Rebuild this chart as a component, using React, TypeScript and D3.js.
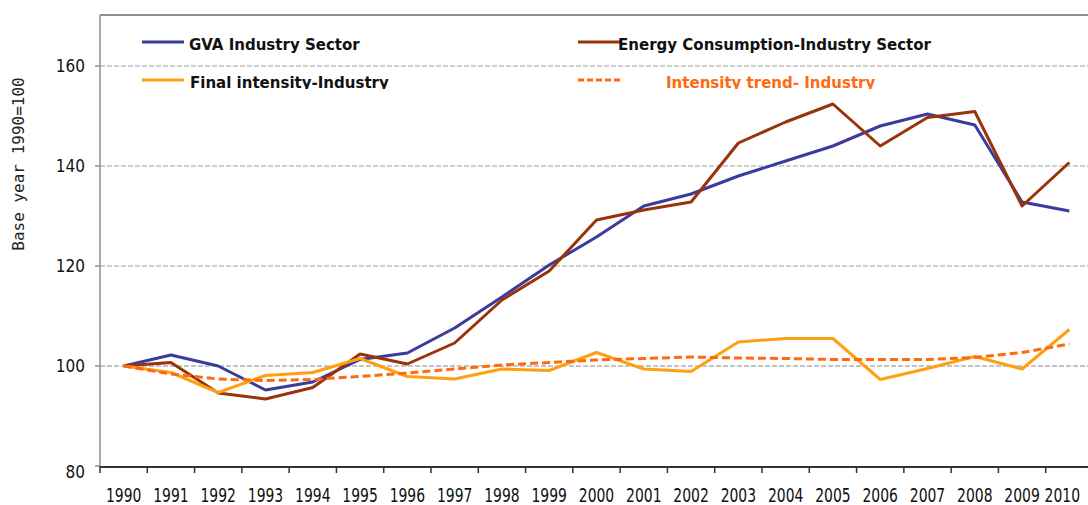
import { useEffect, useRef } from "react";
import * as d3 from "d3";

const years = ["1990", "1991", "1992", "1993", "1994", "1995", "1996", "1997", "1998", "1999", "2000",
  "2001", "2002", "2003", "2004", "2005", "2006", "2007", "2008", "2009", "2010"];

const gva = [100, 102.2, 100, 95.2, 96.8, 101.3, 102.6, 107.6, 113.8, 120.2, 125.8,
  132, 134.4, 138, 141, 144, 148, 150.4, 148.2, 132.8, 131];
const energy = [100, 100.7, 94.6, 93.4, 95.7, 102.4, 100.4, 104.6, 113.2, 119, 129.2,
  131.2, 132.8, 144.6, 148.8, 152.4, 144, 149.7, 150.9, 132, 140.7];
const finalIntensity = [100, 98.7, 94.7, 98.1, 98.7, 101.5, 97.9, 97.4, 99.4, 99.1, 102.7,
  99.4, 98.9, 104.8, 105.5, 105.5, 97.3, 99.5, 101.9, 99.4, 107.3];
const intensityTrend = [100, 98.4, 97.4, 97.1, 97.3, 97.9, 98.6, 99.4, 100.2, 100.7, 101.2,
  101.5, 101.8, 101.6, 101.5, 101.3, 101.3, 101.3, 101.7, 102.7, 104.4];

const yTicks = [80, 100, 120, 140, 160];

const series = [
  { name: "GVA Industry Sector", values: gva, color: "#3b3b9e", dash: null },
  { name: "Energy Consumption-Industry Sector", values: energy, color: "#99330a", dash: null },
  { name: "Final intensity-Industry", values: finalIntensity, color: "#ffa010", dash: null },
  { name: "Intensity trend- Industry", values: intensityTrend, color: "#ff6a10", dash: "8,4" },
];

const W = 1088
const H = 505

export default function App() {
  const svgRef = useRef<SVGSVGElement>(null)

  useEffect(() => {
    if (!svgRef.current) return
    const svg = d3.select(svgRef.current)
    svg.selectAll("*").remove()

    const left = 100, top = 15, bottom = 466
    const x = d3.scaleBand(years, [left, 1093])
    const y = d3.scaleLinear([80, 160], [bottom, 66])
    const cx = (i: number) => x(years[i])! + x.bandwidth() / 2

    // gridlines
    svg.append("g").selectAll("line")
      .data(yTicks.filter(t => t > 80))
      .join("line")
      .attr("x1", left).attr("x2", W)
      .attr("y1", d => y(d)).attr("y2", d => y(d))
      .attr("stroke", d => d === 100 ? "#8a8a8a" : "#a3a3a3").attr("stroke-width", 1)
      .attr("stroke-dasharray", "5,2")

    // frame
    svg.append("line").attr("x1", left).attr("x2", W).attr("y1", top).attr("y2", top)
      .attr("stroke", "#8f8f8f").attr("stroke-width", 2)
    svg.append("line").attr("x1", left).attr("x2", left).attr("y1", top).attr("y2", bottom)
      .attr("stroke", "#8f8f8f").attr("stroke-width", 1.5)

    // y ticks and labels
    const yg = svg.append("g")
    yg.selectAll("line").data(yTicks).join("line")
      .attr("x1", 95).attr("x2", left)
      .attr("y1", d => y(d)).attr("y2", d => y(d))
      .attr("stroke", "#8f8f8f").attr("stroke-width", 1.5)
    yg.selectAll("text").data(yTicks).join("text")
      .attr("x", 85)
      .attr("y", d => y(d) + (d === 80 ? 12 : 6))
      .attr("text-anchor", "end")
      .attr("font-family", "DejaVu Sans Condensed, DejaVu Sans")
      .attr("font-stretch", "condensed")
      .attr("font-size", 17)
      .attr("fill", "#111")
      .text(d => d)

    // axis title
    svg.append("text")
      .attr("transform", "translate(18.5,164) rotate(-90)")
      .attr("text-anchor", "middle")
      .attr("dominant-baseline", "central")
      .attr("font-family", "DejaVu Sans Mono")
      .attr("font-size", 16)
      .attr("fill", "#222")
      .text("Base year 1990=100")

    // x axis
    svg.append("line").attr("x1", left).attr("x2", W).attr("y1", bottom + 1).attr("y2", bottom + 1)
      .attr("stroke", "#333").attr("stroke-width", 2)
    const xg = svg.append("g")
    xg.selectAll("line").data(years).join("line")
      .attr("x1", d => x(d)!).attr("x2", d => x(d)!)
      .attr("y1", bottom).attr("y2", bottom + 7)
      .attr("stroke", "#333").attr("stroke-width", 1.5)
    xg.selectAll("text").data(years).join("text")
      .attr("transform", (d, i) => {
        const last = i === years.length - 1
        return `translate(${last ? W - 8 : cx(i)},502) scale(1,1.25)`
      })
      .attr("text-anchor", (d, i) => i === years.length - 1 ? "end" : "middle")
      .attr("font-family", "DejaVu Sans Condensed, DejaVu Sans")
      .attr("font-stretch", "condensed")
      .attr("font-size", 15.5)
      .attr("fill", "#111")
      .text(d => d)

    // lines
    const line = d3.line<number>().x((d, i) => cx(i)).y(d => y(d))
    svg.append("g").selectAll("path").data(series).join("path")
      .attr("d", d => line(d.values))
      .attr("fill", "none")
      .attr("stroke", d => d.color)
      .attr("stroke-width", 3)
      .attr("stroke-linejoin", "round")
      .attr("stroke-dasharray", d => d.dash)

    // legend, clipped at the bottom like the source
    svg.append("clipPath").attr("id", "legclip")
      .append("rect").attr("x", 0).attr("y", 20).attr("width", W).attr("height", 69)
    const legendPos = [
      { lx: 142, tx: 189, y: 42 },
      { lx: 578, tx: 618, y: 42 },
      { lx: 142, tx: 190, y: 80 },
      { lx: 578, tx: 666, y: 80 },
    ]
    const lg = svg.append("g").attr("clip-path", "url(#legclip)")
    const items = lg.selectAll("g").data(series).join("g")
    items.append("line")
      .attr("x1", (d, i) => legendPos[i].lx).attr("x2", (d, i) => legendPos[i].lx + 42)
      .attr("y1", (d, i) => legendPos[i].y).attr("y2", (d, i) => legendPos[i].y)
      .attr("stroke", d => d.color).attr("stroke-width", 3)
      .attr("stroke-dasharray", d => d.dash ? "6,3" : null)
    items.append("text")
      .attr("x", (d, i) => legendPos[i].tx)
      .attr("y", (d, i) => legendPos[i].y + 8)
      .attr("font-family", "DejaVu Sans Condensed, DejaVu Sans")
      .attr("font-stretch", "condensed")
      .attr("font-weight", "bold")
      .attr("font-size", 16.7)
      .attr("fill", d => d.dash ? "#ff6a10" : "#111")
      .text(d => d.name)
  }, [])

  return (
    <svg ref={svgRef} width={W} height={H}
      style={{ position: "absolute", left: 0, top: 0, background: "#fff" }} />
  )
}
